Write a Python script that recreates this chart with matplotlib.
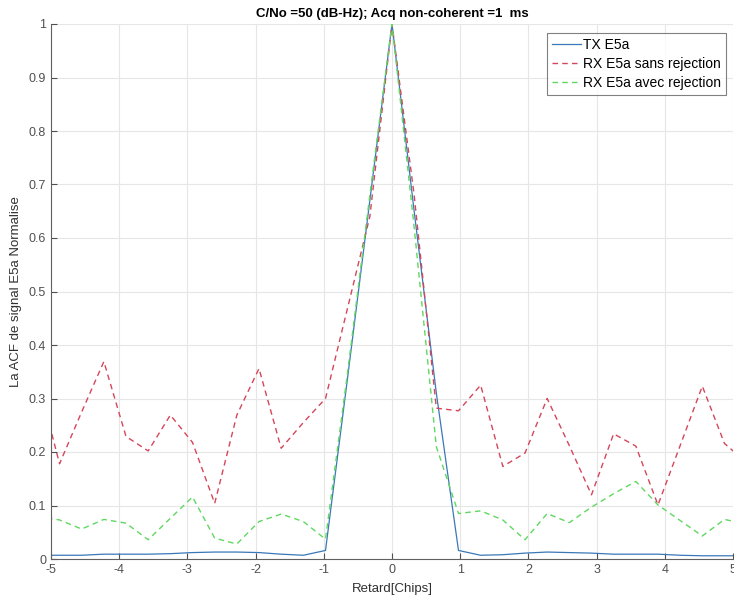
import numpy as np
import matplotlib.pyplot as plt

plt.rcParams['font.family'] = ['Liberation Sans', 'DejaVu Sans']
plt.rcParams['axes.unicode_minus'] = False

# lag grid in chips (one sample every ~0.325 chip)
lag = np.arange(-16, 17) * 0.325

tx_e5a = [0.007, 0.007, 0.007, 0.009, 0.009, 0.009, 0.010, 0.012, 0.013, 0.013,
          0.012, 0.009, 0.007, 0.016, 0.34, 0.67, 1.0, 0.65, 0.31, 0.016,
          0.007, 0.008, 0.011, 0.013, 0.012, 0.011, 0.009, 0.009, 0.009, 0.007,
          0.006, 0.006, 0.006]
rx_sans = [0.339, 0.178, 0.275, 0.369, 0.229, 0.202, 0.269, 0.218, 0.104, 0.269,
           0.356, 0.207, 0.255, 0.300, 0.47, 0.64, 1.0, 0.68, 0.282, 0.277,
           0.325, 0.173, 0.198, 0.300, 0.212, 0.120, 0.234, 0.211, 0.101, 0.212,
           0.323, 0.216, 0.18]
rx_avec = [0.08, 0.073, 0.056, 0.074, 0.067, 0.036, 0.076, 0.116, 0.039, 0.028,
           0.070, 0.084, 0.070, 0.037, 0.35, 0.68, 1.0, 0.62, 0.21, 0.085,
           0.090, 0.073, 0.036, 0.085, 0.068, 0.097, 0.122, 0.145, 0.101, 0.072,
           0.043, 0.074, 0.065]

fig = plt.figure(figsize=(7.34, 5.98), dpi=100)
ax = fig.add_axes([51/734, 39/598, 682/734, 535/598])

ax.plot(lag, tx_e5a, color='#3a78b8', lw=0.9, label='TX E5a')
ax.plot(lag, rx_sans, color='#d4465a', lw=1.0, dashes=(4, 3), label='RX E5a sans rejection')
ax.plot(lag, rx_avec, color='#5fd85f', lw=1.0, dashes=(4, 3), label='RX E5a avec rejection')

ax.set_xlim(-5, 5)
ax.set_ylim(0, 1)
ax.set_xticks(range(-5, 6))
ax.set_yticks(np.arange(0, 1.01, 0.1))
ax.set_yticklabels(['0', '0.1', '0.2', '0.3', '0.4', '0.5', '0.6', '0.7', '0.8', '0.9', '1'])
ax.grid(True, color='#e6e6e6', lw=0.8)
ax.set_axisbelow(True)
ax.tick_params(direction='in', length=4, colors='#505050', labelsize=9)
for s in ['top', 'right']:
    ax.spines[s].set_visible(False)
for s in ['left', 'bottom']:
    ax.spines[s].set_color('#606060')

ax.set_title('C/No =50 (dB-Hz); Acq non-coherent =1  ms', fontsize=9.5,
             fontweight='bold', pad=5)
ax.set_xlabel('Retard[Chips]', fontsize=9.5, color='#303030', labelpad=5)
ax.set_ylabel('La ACF de signal E5a Normalise', fontsize=9.5, color='#303030', labelpad=5)

leg = ax.legend(loc='upper right', fontsize=10, frameon=True, fancybox=False,
                edgecolor='#606060', borderpad=0.35, handlelength=2.1,
                handletextpad=0.15, labelspacing=0.35, borderaxespad=0,
                bbox_to_anchor=(0.99, 0.983))
leg.get_frame().set_linewidth(0.8)

fig.savefig('out.png', dpi=100)
